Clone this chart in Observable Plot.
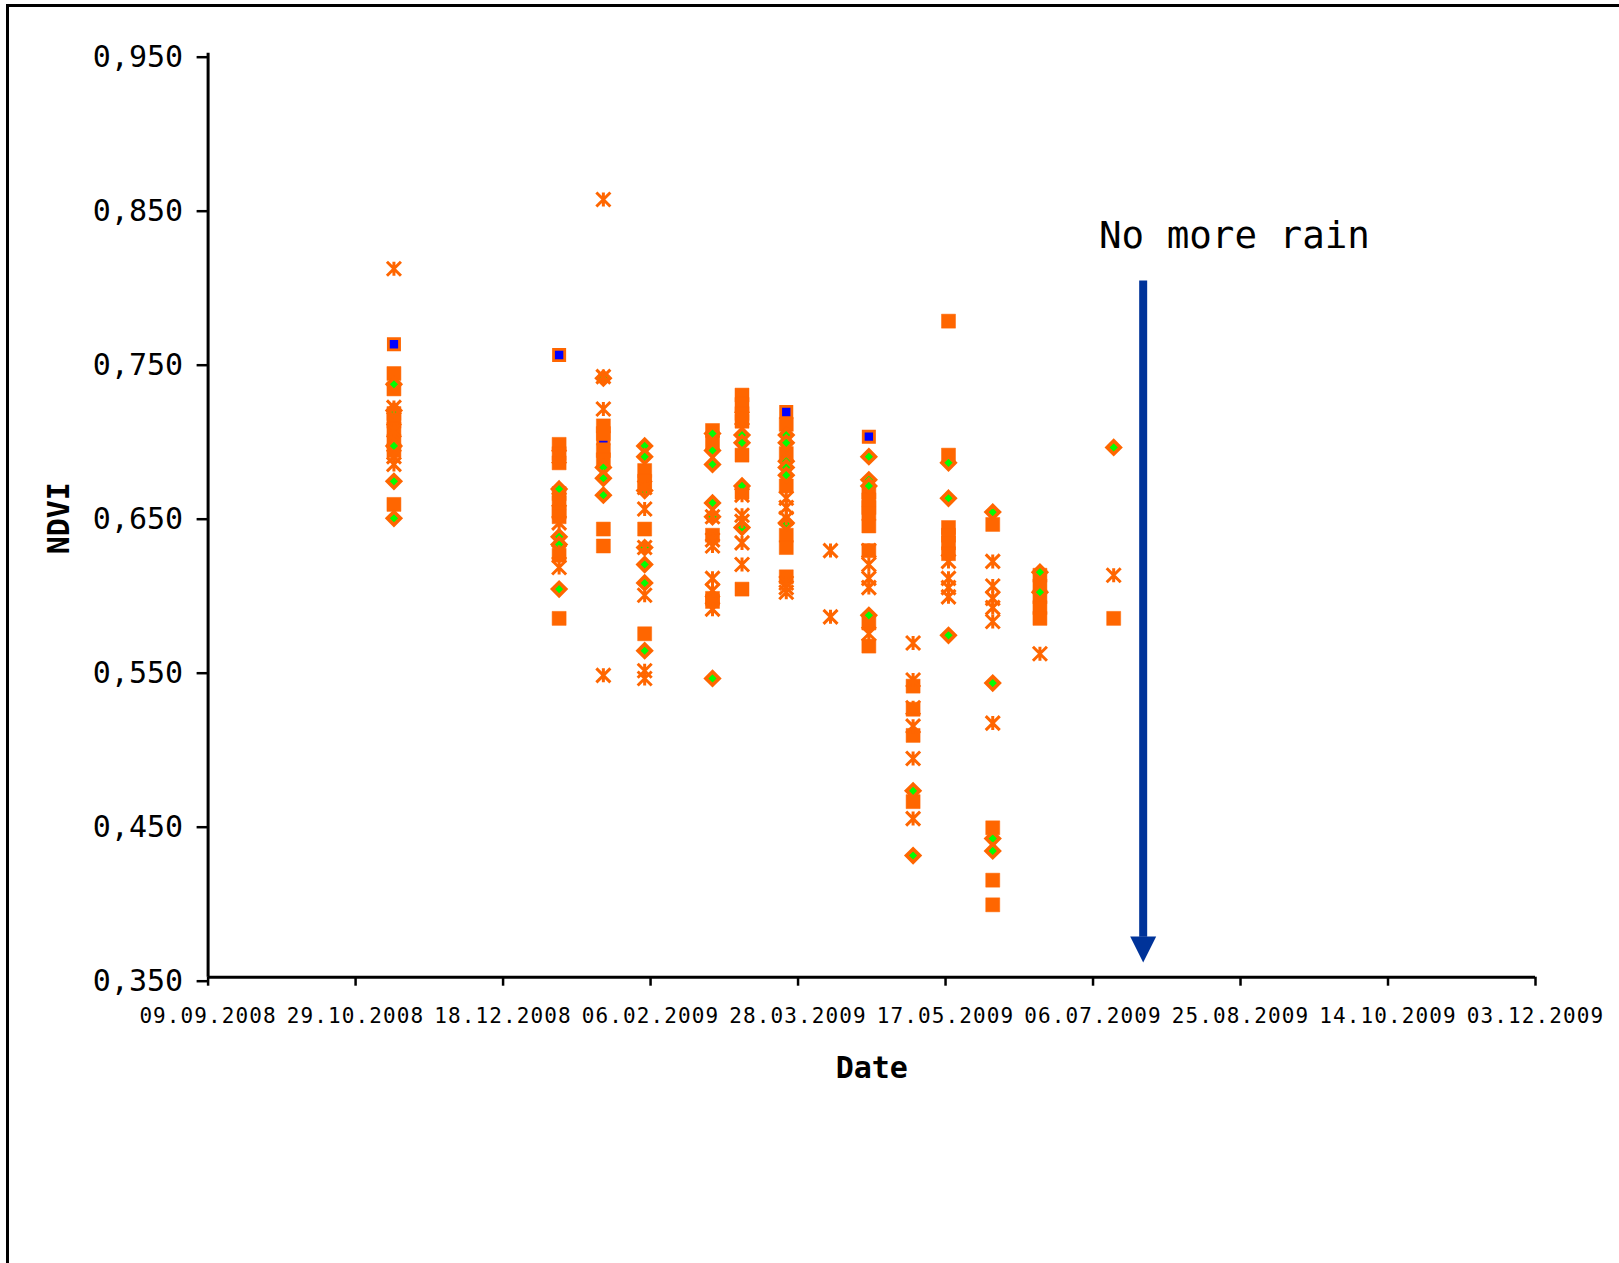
<!DOCTYPE html>
<html>
<head>
<meta charset="utf-8">
<script src="https://cdn.jsdelivr.net/npm/d3@7"></script>
<script src="https://cdn.jsdelivr.net/npm/@observablehq/plot@0.6"></script>
<style>
html, body { margin: 0; padding: 0; background: #fff; overflow: hidden; }
#wrap { position: relative; width: 1619px; height: 1263px; }
#border { position: absolute; left: 6px; top: 4px; right: 0; bottom: 0;
  border-top: 3px solid #000; border-left: 3px solid #000; pointer-events: none; }
</style>
</head>
<body>
<div id="wrap"><div id="chart"></div><div id="border"></div></div>
<script>
// ---- data ----
const dates = ["2008-11-11","2009-01-06","2009-01-21","2009-02-04","2009-02-27","2009-03-09","2009-03-24",
               "2009-04-08","2009-04-21","2009-05-06","2009-05-18","2009-06-02","2009-06-18","2009-07-13"];

const squareValues = [
  [0.742,0.732,0.716,0.711,0.706,0.698,0.692,0.657],
  [0.696,0.690,0.684,0.664,0.658,0.652,0.649,0.624,0.583],
  [0.708,0.703,0.692,0.686,0.641,0.630],
  [0.679,0.672,0.641,0.573],
  [0.705,0.697,0.637,0.596,0.594],
  [0.728,0.722,0.716,0.711,0.689,0.665,0.602],
  [0.709,0.690,0.669,0.637,0.629,0.610],
  [],
  [0.665,0.660,0.655,0.651,0.643,0.627,0.580,0.565],
  [0.539,0.524,0.507,0.464],
  [0.776,0.689,0.642,0.637,0.632,0.625],
  [0.644,0.447,0.413,0.397],
  [0.611,0.604,0.597,0.590,0.583],
  [0.583]
];
const diamondValues = [
  [0.735,0.718,0.695,0.672,0.648],
  [0.667,0.636,0.631,0.602],
  [0.739,0.681,0.674,0.663],
  [0.695,0.688,0.666,0.629,0.618,0.606,0.562],
  [0.703,0.692,0.683,0.658,0.649,0.544],
  [0.702,0.697,0.669,0.642],
  [0.702,0.697,0.685,0.681,0.676,0.645],
  [],
  [0.688,0.673,0.669,0.585],
  [0.471,0.429],
  [0.684,0.661,0.572],
  [0.652,0.541,0.440,0.432],
  [0.613,0.600],
  [0.694]
];
const starValues = [
  [0.810,0.720,0.705,0.688,0.683],
  [0.688,0.660,0.645,0.626,0.616],
  [0.855,0.740,0.719,0.546],
  [0.668,0.654,0.629,0.598,0.549,0.544],
  [0.649,0.634,0.630,0.609,0.601,0.589],
  [0.713,0.663,0.650,0.646,0.632,0.618],
  [0.661,0.655,0.648,0.606,0.603,0.600],
  [0.627,0.584],
  [0.627,0.618,0.609,0.603,0.573],
  [0.567,0.543,0.525,0.513,0.492,0.453],
  [0.620,0.609,0.603,0.597],
  [0.620,0.604,0.596,0.590,0.581,0.515],
  [0.560],
  [0.611]
];
const blueValues = [
  [0.761],[0.754],[0.700],[0.670],[],[],[0.717],[],[0.701],[],[],[],[],[]
];

const xTickLabels = ["09.09.2008","29.10.2008","18.12.2008","06.02.2009","28.03.2009",
                     "17.05.2009","06.07.2009","25.08.2009","14.10.2009","03.12.2009"];
const yTicks = [0.35, 0.45, 0.55, 0.65, 0.75, 0.85, 0.95];

// annotation
const rainLabel = ["No more rain"];
const rainLabelDate = ["2009-07-08"];
const rainLabelValue = [0.831];
const arrowDate = ["2009-07-23"];
const arrowTop = [0.802];
const arrowHeadBase = [0.376];
const arrowTip = [0.3596];

// ---- build ----
const parseISO = d3.utcParse("%Y-%m-%d");
const parseTick = d3.utcParse("%d.%m.%Y");
const xTicks = xTickLabels.map(parseTick);
function flatten(vals) {
  const rows = [];
  vals.forEach((col, i) => col.forEach(v => rows.push({date: parseISO(dates[i]), ndvi: v})));
  return rows;
}
const squares = flatten(squareValues);
const diamonds = flatten(diamondValues);
const stars = flatten(starValues);
const blues = flatten(blueValues);

const rOf = size => Math.sqrt(size / Math.PI);
const squareSym = {draw(c, s) { const r = rOf(s); c.moveTo(-r,-r); c.lineTo(r,-r); c.lineTo(r,r); c.lineTo(-r,r); c.closePath(); }};
const diamondSym = {draw(c, s) { const r = rOf(s); c.moveTo(0,-r); c.lineTo(r,0); c.lineTo(0,r); c.lineTo(-r,0); c.closePath(); }};
const starSym = {draw(c, s) { const r = rOf(s);
  c.moveTo(-r,-r); c.lineTo(r,r); c.moveTo(-r,r); c.lineTo(r,-r); c.moveTo(0,-r); c.lineTo(0,r); }};
const headSym = {draw(c, s) { const r = rOf(s); c.moveTo(-r,-2*r); c.lineTo(r,-2*r); c.lineTo(0,0); c.closePath(); }};

const ORANGE = "#ff6600", GREEN = "#00ff00", BLUE = "#0000ff", ARROW = "#003399";
const FONT = "'DejaVu Sans Mono', monospace";
const fmtY = d => d.toFixed(3).replace(".", ",");

const chart = Plot.plot({
  width: 1619,
  height: 1263,
  marginLeft: 207.6,
  marginRight: 84,
  marginTop: 52.7,
  marginBottom: 286.3,
  style: {fontFamily: FONT, background: "white", color: "black", overflow: "visible"},
  x: {type: "utc", domain: [xTicks[0], xTicks[xTicks.length - 1]]},
  y: {domain: [0.35, 0.95]},
  marks: [
    Plot.axisY(yTicks, {tickSize: 11, tickPadding: 14, fontSize: 30, dy: 4, tickFormat: fmtY, strokeWidth: 2.5, label: null}),
    Plot.axisX(xTicks, {tickSize: 9, tickPadding: 22, fontSize: 21, tickFormat: d3.utcFormat("%d.%m.%Y"), strokeWidth: 2.5, label: null}),
    Plot.ruleX([xTicks[0]], {strokeWidth: 3, stroke: "black"}),
    Plot.ruleY([0.35], {strokeWidth: 3, stroke: "black"}),
    Plot.dot(blues, {x: "date", y: "ndvi", symbol: squareSym, r: 5.6, fill: BLUE, stroke: ORANGE, strokeWidth: 2.8}),
    Plot.dot(squares, {x: "date", y: "ndvi", symbol: squareSym, r: 7, fill: ORANGE, stroke: ORANGE, strokeWidth: 0.5}),
    Plot.dot(diamonds, {x: "date", y: "ndvi", symbol: diamondSym, r: 6.6, fill: GREEN, stroke: ORANGE, strokeWidth: 3.6}),
    Plot.dot(stars, {x: "date", y: "ndvi", symbol: starSym, r: 7, fill: "none", stroke: ORANGE, strokeWidth: 3}),
    Plot.ruleX(arrowDate.map((d, i) => ({date: parseISO(d), y1: arrowTop[i], y2: arrowHeadBase[i]})),
      {x: "date", y1: "y1", y2: "y2", stroke: ARROW, strokeWidth: 8}),
    Plot.dot(arrowDate.map((d, i) => ({date: parseISO(d), y: arrowTip[i]})),
      {x: "date", y: "y", symbol: headSym, r: 13, fill: ARROW, stroke: "none"}),
    Plot.text(rainLabel.map((t, i) => ({t, date: parseISO(rainLabelDate[i]), y: rainLabelValue[i]})),
      {x: "date", y: "y", text: "t", textAnchor: "start", lineAnchor: "middle", fontSize: 37.5, fill: "black"}),
    Plot.text(["Date"], {frameAnchor: "bottom", textAnchor: "middle", lineAnchor: "middle", dy: 91, fontSize: 30, fontWeight: "bold", fill: "black"}),
    Plot.text(["NDVI"], {frameAnchor: "left", textAnchor: "middle", lineAnchor: "middle", rotate: -90, dx: -148.6, dy: 3, fontSize: 30, fontWeight: "bold", fill: "black"})
  ]
});
document.getElementById("chart").appendChild(chart);
chart.querySelectorAll('g[aria-label="x-axis tick label"] text').forEach(t => t.setAttribute("letter-spacing", "1.1"));
</script>
</body>
</html>
